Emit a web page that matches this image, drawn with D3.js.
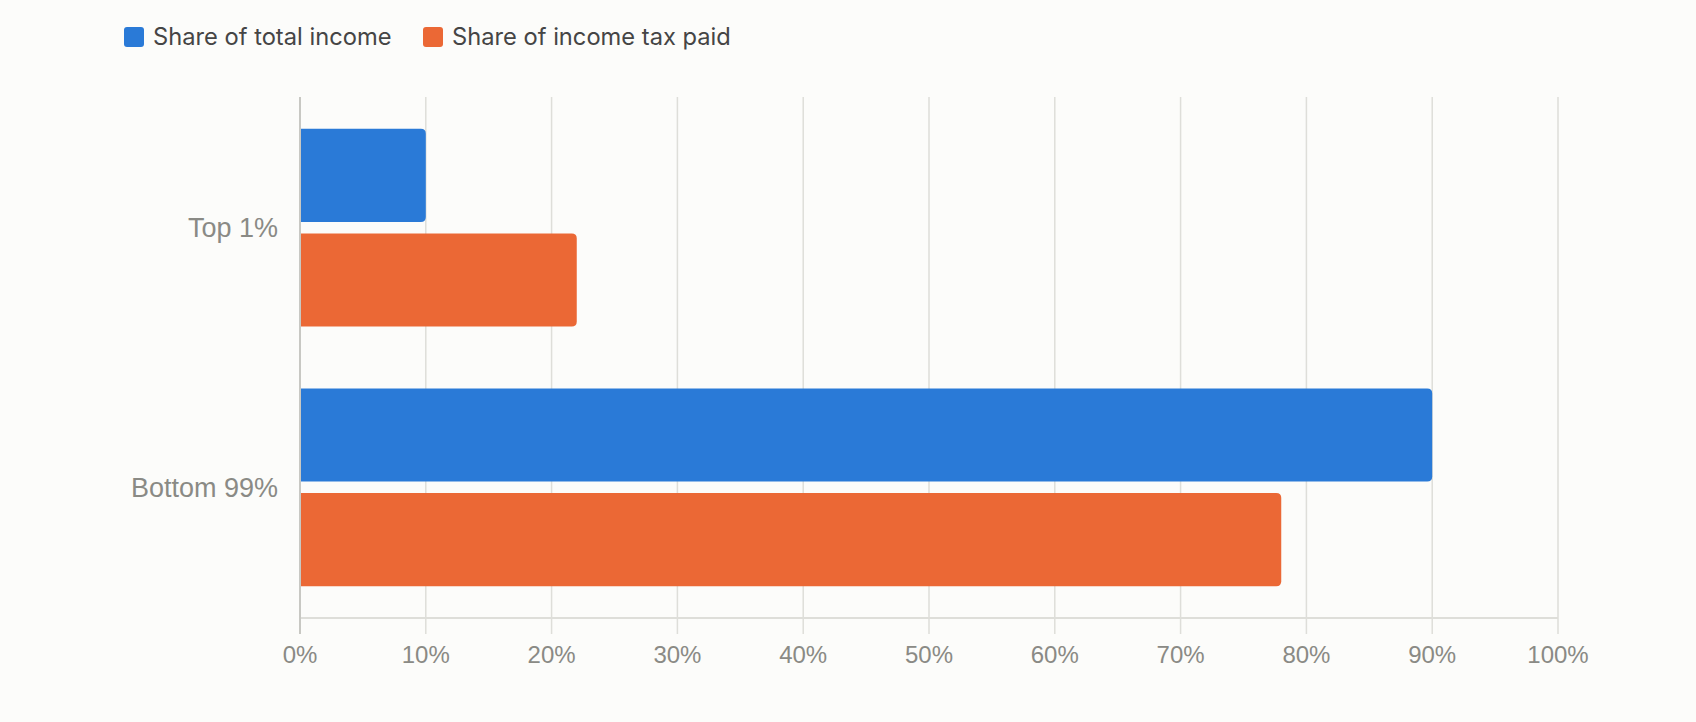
<!DOCTYPE html>
<html>
<head>
<meta charset="utf-8">
<script src="https://cdn.jsdelivr.net/npm/d3@7"></script>
<style>
  html, body { margin: 0; padding: 0; background: #fcfcfa; }
  svg { display: block; }
</style>
</head>
<body>
<div id="chart"></div>
<script>
// data
const categories = ["Top 1%", "Bottom 99%"];
const seriesNames = ["Share of total income", "Share of income tax paid"];
const incomeShare = [10, 90];
const taxShare = [22, 78];
const xTicks = [0, 10, 20, 30, 40, 50, 60, 70, 80, 90, 100];
const colors = ["#2a7ad7", "#eb6835"];

const width = 1696;
const height = 722;

const svg = d3
  .select("#chart")
  .append("svg")
  .attr("width", width)
  .attr("height", height);

// scales
const x = d3.scaleLinear().domain([0, 100]).range([300, 1558]);
const y0 = d3
  .scaleBand()
  .domain(categories)
  .range([97, 618])
  .paddingInner(0.238)
  .paddingOuter(0.122);
const y1 = d3
  .scaleBand()
  .domain(seriesNames)
  .range([0, y0.bandwidth()])
  .paddingInner(0.11);

const rows = categories.map((c, i) => ({
  category: c,
  values: [
    { series: seriesNames[0], value: incomeShare[i] },
    { series: seriesNames[1], value: taxShare[i] },
  ],
}));

// grid lines (extend below baseline as ticks)
svg
  .append("g")
  .selectAll("line")
  .data(xTicks.filter((d) => d > 0))
  .enter()
  .append("line")
  .attr("x1", (d) => x(d))
  .attr("x2", (d) => x(d))
  .attr("y1", 97)
  .attr("y2", 634)
  .attr("stroke", "#deded9")
  .attr("stroke-width", 1.5);

// baseline
svg
  .append("line")
  .attr("x1", x(0))
  .attr("x2", x(100))
  .attr("y1", 618)
  .attr("y2", 618)
  .attr("stroke", "#deded9")
  .attr("stroke-width", 2);

// bars with rounded right end
function barPath(x0, x1, yTop, h, r) {
  return `M${x0},${yTop}H${x1 - r}Q${x1},${yTop} ${x1},${yTop + r}` +
    `V${yTop + h - r}Q${x1},${yTop + h} ${x1 - r},${yTop + h}H${x0}Z`;
}

const groups = svg
  .selectAll(".row")
  .data(rows)
  .enter()
  .append("g")
  .attr("class", "row")
  .attr("transform", (d) => `translate(0,${y0(d.category)})`);

groups
  .selectAll("path")
  .data((d) => d.values)
  .enter()
  .append("path")
  .attr("d", (d) =>
    barPath(x(0) + 1, x(d.value), y1(d.series), y1.bandwidth(), 5)
  )
  .attr("fill", (d, i) => colors[i]);

// left axis line
svg
  .append("line")
  .attr("x1", x(0))
  .attr("x2", x(0))
  .attr("y1", 97)
  .attr("y2", 634)
  .attr("stroke", "#c8c8c3")
  .attr("stroke-width", 2);

// category labels
svg
  .append("g")
  .selectAll("text")
  .data(categories)
  .enter()
  .append("text")
  .attr("x", 278)
  .attr("y", (d) => y0(d) + y0.bandwidth() / 2)
  .attr("dy", "0.35em")
  .attr("text-anchor", "end")
  .style("font-family", "'Liberation Sans', Arial, sans-serif")
  .style("font-size", "27px")
  .style("fill", "#8a8a85")
  .text((d) => d);

// x tick labels
svg
  .append("g")
  .selectAll("text")
  .data(xTicks)
  .enter()
  .append("text")
  .attr("x", (d) => x(d))
  .attr("y", 655)
  .attr("dy", "0.35em")
  .attr("text-anchor", "middle")
  .style("font-family", "'Liberation Sans', Arial, sans-serif")
  .style("font-size", "24px")
  .style("fill", "#8a8a85")
  .text((d) => d + "%");

// legend
const legendX = [124, 423];
const legend = svg
  .selectAll(".legend")
  .data(seriesNames)
  .enter()
  .append("g")
  .attr("class", "legend")
  .attr("transform", (d, i) => `translate(${legendX[i]},27)`);

legend
  .append("rect")
  .attr("width", 20)
  .attr("height", 20)
  .attr("rx", 3)
  .attr("fill", (d, i) => colors[i]);

legend
  .append("text")
  .attr("x", 29)
  .attr("y", 10)
  .attr("dy", "0.35em")
  .style("font-family", "Inter, 'Noto Sans', sans-serif")
  .style("font-size", "23.7px")
  .style("fill", "#454545")
  .text((d) => d);
</script>
</body>
</html>
